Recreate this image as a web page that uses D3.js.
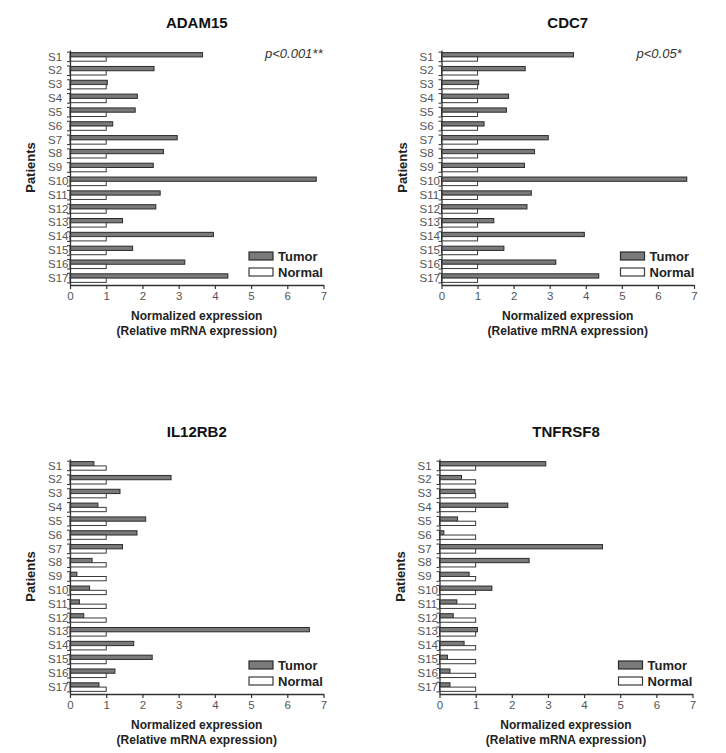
<!DOCTYPE html>
<html>
<head>
<meta charset="utf-8">
<script src="https://cdn.jsdelivr.net/npm/d3@7"></script>
<style>
  html, body { margin: 0; padding: 0; background: #fff; }
  svg { display: block; font-family: Arial, "Liberation Sans", sans-serif; }
</style>
</head>
<body>
<svg id="chart" width="726" height="753"></svg>
<script>
// ---- Data ----
const patients = ["S1","S2","S3","S4","S5","S6","S7","S8","S9","S10","S11","S12","S13","S14","S15","S16","S17"];
const seriesNames = ["Tumor", "Normal"];
const xTicks = [0, 1, 2, 3, 4, 5, 6, 7];

const adam15Tumor  = [3.66, 2.32, 1.03, 1.86, 1.80, 1.18, 2.96, 2.58, 2.30, 6.80, 2.49, 2.37, 1.45, 3.96, 1.73, 3.17, 4.36];
const adam15Normal = [1, 1, 1, 1, 1, 1, 1, 1, 1, 1, 1, 1, 1, 1, 1, 1, 1];

const cdc7Tumor  = [3.66, 2.32, 1.03, 1.86, 1.80, 1.18, 2.96, 2.58, 2.30, 6.80, 2.49, 2.37, 1.45, 3.96, 1.73, 3.17, 4.36];
const cdc7Normal = [1, 1, 1, 1, 1, 1, 1, 1, 1, 1, 1, 1, 1, 1, 1, 1, 1];

const il12rb2Tumor  = [0.66, 2.79, 1.38, 0.77, 2.09, 1.85, 1.45, 0.61, 0.19, 0.54, 0.26, 0.38, 6.61, 1.76, 2.27, 1.24, 0.80];
const il12rb2Normal = [1, 1, 1, 1, 1, 1, 1, 1, 1, 1, 1, 1, 1, 1, 1, 1, 1];

const tnfrsf8Tumor  = [2.94, 0.61, 0.98, 1.89, 0.50, 0.12, 4.51, 2.48, 0.82, 1.45, 0.48, 0.38, 1.05, 0.68, 0.22, 0.29, 0.29];
const tnfrsf8Normal = [1, 1, 1, 1, 1, 1, 1, 1, 1, 1, 1, 1, 1, 1, 1, 1, 1];

const panelTitles = ["ADAM15", "CDC7", "IL12RB2", "TNFRSF8"];
const pValues = ["p<0.001**", "p<0.05*", "", ""];
const xAxisTitle = ["Normalized expression", "(Relative mRNA expression)"];
const yAxisTitle = "Patients";

// ---- Layout ----
const panels = [
  { title: panelTitles[0], p: pValues[0], tumor: adam15Tumor,  normal: adam15Normal,  x0: 70,    x1: 323.5, y0: 50,  y1: 285 },
  { title: panelTitles[1], p: pValues[1], tumor: cdc7Tumor,    normal: cdc7Normal,    x0: 441.5, x1: 694,   y0: 50,  y1: 285 },
  { title: panelTitles[2], p: pValues[2], tumor: il12rb2Tumor, normal: il12rb2Normal, x0: 70,    x1: 323.5, y0: 459, y1: 694 },
  { title: panelTitles[3], p: pValues[3], tumor: tnfrsf8Tumor, normal: tnfrsf8Normal, x0: 439.5, x1: 692.5, y0: 459, y1: 694 }
];

const fills = { Tumor: "#7a7a7a", Normal: "#ffffff" };
const strokes = { Tumor: "#2b2b2b", Normal: "#3a3a3a" };
const axisColor = "#333";
const labelColor = "#555";

const svg = d3.select("#chart");
svg.append("rect").attr("width", 726).attr("height", 753).attr("fill", "#fff");

panels.forEach(pn => {
  const g = svg.append("g");
  const x = d3.scaleLinear().domain([0, 7]).range([pn.x0, pn.x1]);
  const y = d3.scaleBand().domain(patients).range([pn.y0, pn.y1]).paddingInner(0.38).paddingOuter(0.19);
  const ySub = d3.scaleBand().domain(seriesNames).range([0, y.bandwidth()]);

  const rows = patients.map((p, i) => ({ p, Tumor: pn.tumor[i], Normal: pn.normal[i] }));

  // bars
  const grp = g.selectAll("g.row").data(rows).join("g")
    .attr("transform", d => `translate(0,${y(d.p)})`);
  grp.selectAll("rect").data(d => seriesNames.map(s => ({ s, v: d[s] }))).join("rect")
    .attr("x", x(0))
    .attr("y", d => ySub(d.s))
    .attr("width", d => x(d.v) - x(0))
    .attr("height", ySub.bandwidth())
    .attr("fill", d => fills[d.s])
    .attr("stroke", d => strokes[d.s])
    .attr("stroke-width", 1);

  // x axis
  const xAxis = g.append("g").attr("transform", `translate(0,${pn.y1})`)
    .call(d3.axisBottom(x).tickValues(xTicks).tickFormat(d3.format("d")).tickSize(4).tickSizeOuter(0));
  xAxis.select(".domain").attr("stroke", axisColor).attr("stroke-width", 1.3);
  xAxis.selectAll(".tick line").attr("stroke", axisColor).attr("stroke-width", 1.2);
  xAxis.selectAll(".tick text").attr("fill", labelColor).attr("font-size", 11.5).attr("dy", "0.75em").attr("y", 6);

  // y axis (labels left-aligned as in the reference)
  const yAxis = g.append("g").attr("transform", `translate(${pn.x0},0)`)
    .call(d3.axisLeft(y).tickSize(0).tickPadding(22));
  yAxis.select(".domain").attr("stroke", axisColor).attr("stroke-width", 1.3);
  yAxis.selectAll(".tick text").attr("fill", labelColor).attr("font-size", 11.5).attr("text-anchor", "start");
  // small ticks at band edges
  g.selectAll("line.ytick").data(patients).join("line")
    .attr("x1", pn.x0 - 3).attr("x2", pn.x0)
    .attr("y1", d => y(d) - 0.5).attr("y2", d => y(d) - 0.5)
    .attr("stroke", axisColor).attr("stroke-width", 1);
  g.selectAll("line.ytick2").data(patients).join("line")
    .attr("x1", pn.x0 - 3).attr("x2", pn.x0)
    .attr("y1", d => y(d) + y.bandwidth() + 0.5).attr("y2", d => y(d) + y.bandwidth() + 0.5)
    .attr("stroke", axisColor).attr("stroke-width", 1);

  // title
  g.append("text").attr("x", (pn.x0 + pn.x1) / 2).attr("y", pn.y0 - 22)
    .attr("text-anchor", "middle").attr("font-size", 15).attr("font-weight", "bold").attr("fill", "#111")
    .text(pn.title);

  // p-value
  if (pn.p) {
    g.append("text").attr("x", pn.x0 + 195).attr("y", pn.y0 + 8)
      .attr("font-size", 13).attr("font-style", "italic").attr("fill", "#333")
      .text(pn.p);
  }

  // x axis title
  xAxisTitle.forEach((t, i) => {
    g.append("text").attr("x", (pn.x0 + pn.x1) / 2).attr("y", pn.y1 + 35 + i * 15)
      .attr("text-anchor", "middle").attr("font-size", 12).attr("font-weight", "bold").attr("fill", "#222")
      .text(t);
  });

  // y axis title
  g.append("text")
    .attr("transform", `translate(${pn.x0 - 35},${(pn.y0 + pn.y1) / 2}) rotate(-90)`)
    .attr("text-anchor", "middle").attr("font-size", 13).attr("font-weight", "bold").attr("fill", "#222")
    .text(yAxisTitle);

  // legend
  const lg = g.append("g").attr("transform", `translate(${pn.x0 + 179},${pn.y1 - 33})`);
  seriesNames.forEach((s, i) => {
    lg.append("rect").attr("x", 0).attr("y", i * 16).attr("width", 24).attr("height", 8)
      .attr("fill", fills[s]).attr("stroke", strokes[s]).attr("stroke-width", 1.2);
    lg.append("text").attr("x", 29).attr("y", i * 16 + 4).attr("dy", "0.36em")
      .attr("font-size", 13).attr("font-weight", "bold").attr("fill", "#222")
      .text(s);
  });
});
</script>
</body>
</html>
